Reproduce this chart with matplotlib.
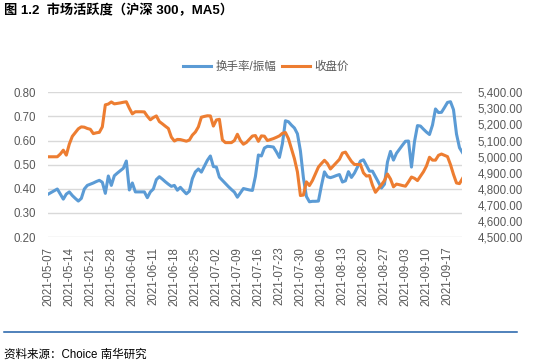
import matplotlib
matplotlib.use("Agg")
import matplotlib.pyplot as plt
import matplotlib.dates as mdates
from matplotlib.lines import Line2D
import pandas as pd

plt.rcParams['font.family'] = ['Liberation Sans', 'Noto Sans CJK SC', 'DejaVu Sans']

start_date = "2021-05-07"
end_date = "2021-09-22"

turnover = [0.378, 0.385, 0.392, 0.399, 0.378, 0.357, 0.378, 0.387, 0.372, 0.360,
            0.349, 0.360, 0.399, 0.414, 0.419, 0.424, 0.430, 0.435, 0.427, 0.381,
            0.453, 0.414, 0.454, 0.465, 0.475, 0.485, 0.515, 0.395, 0.424, 0.387,
            0.387, 0.387, 0.387, 0.363, 0.387, 0.399, 0.438, 0.450, 0.440, 0.429,
            0.419, 0.410, 0.414, 0.394, 0.406, 0.392, 0.379, 0.390, 0.442, 0.470,
            0.482, 0.469, 0.494, 0.518, 0.536, 0.492, 0.490, 0.448, 0.435, 0.422,
            0.409, 0.397, 0.386, 0.365, 0.383, 0.401, 0.398, 0.395, 0.393, 0.451,
            0.540, 0.536, 0.569, 0.576, 0.575, 0.573, 0.553, 0.530, 0.587, 0.682,
            0.678, 0.664, 0.652, 0.628, 0.557, 0.445, 0.368, 0.346, 0.348, 0.348,
            0.349, 0.413, 0.470, 0.450, 0.446, 0.450, 0.455, 0.459, 0.428, 0.433,
            0.471, 0.447, 0.465, 0.490, 0.515, 0.520, 0.496, 0.473, 0.473, 0.450,
            0.427, 0.403, 0.419, 0.511, 0.555, 0.519, 0.547, 0.564, 0.581, 0.597,
            0.598, 0.490, 0.595, 0.662, 0.660, 0.647, 0.635, 0.625, 0.664, 0.731,
            0.716, 0.717, 0.737, 0.758, 0.761, 0.728, 0.627, 0.570, 0.550]

close = [4999, 4999, 4999, 4999, 5016, 5040, 5009, 5078, 5126, 5149,
         5173, 5185, 5183, 5175, 5170, 5143, 5148, 5151, 5185, 5322,
         5327, 5340, 5328, 5331, 5334, 5338, 5341, 5301, 5266, 5279,
         5279, 5279, 5278, 5251, 5229, 5243, 5253, 5218, 5204, 5189,
         5175, 5121, 5097, 5107, 5106, 5101, 5096, 5103, 5134, 5153,
         5185, 5245, 5250, 5254, 5253, 5190, 5228, 5232, 5104, 5087,
         5087, 5087, 5100, 5139, 5100, 5077, 5088, 5108, 5128, 5131,
         5095, 5129, 5127, 5100, 5106, 5112, 5120, 5129, 5145, 5150,
         5112, 5049, 4987, 4905, 4758, 4761, 4843, 4820, 4851, 4893,
         4935, 4957, 4977, 4957, 4923, 4943, 4963, 4983, 5022, 5028,
         4998, 4970, 4951, 4951, 4951, 4899, 4879, 4882, 4822, 4778,
         4801, 4825, 4851, 4892, 4861, 4812, 4829, 4825, 4820, 4816,
         4843, 4873, 4865, 4851, 4878, 4906, 4942, 4996, 4978, 4978,
         5008, 5016, 5008, 5000, 4950, 4889, 4836, 4832, 4864]

left_ticks = [0.20, 0.30, 0.40, 0.50, 0.60, 0.70, 0.80]
right_ticks = [4500, 4600, 4700, 4800, 4900, 5000, 5100, 5200, 5300, 5400]
x_tick_labels = ["2021-05-07", "2021-05-14", "2021-05-21", "2021-05-28", "2021-06-04",
                 "2021-06-11", "2021-06-18", "2021-06-25", "2021-07-02", "2021-07-09",
                 "2021-07-16", "2021-07-23", "2021-07-30", "2021-08-06", "2021-08-13",
                 "2021-08-20", "2021-08-27", "2021-09-03", "2021-09-10", "2021-09-17"]

dates = pd.date_range(start_date, end_date, freq="D")

W, H = 539, 363
fig = plt.figure(figsize=(W / 100, H / 100), dpi=100)
fig.patch.set_facecolor("white")

L, R, T, B = 48.3, 462.5, 92.3, 237.0
ax = fig.add_axes([L / W, 1 - B / H, (R - L) / W, (B - T) / H])
ax2 = ax.twinx()

blue = "#5B9BD5"
orange = "#ED7D31"
grid_c = "#D9D9D9"
txt_c = "#595959"

ax.plot(dates, turnover, color=blue, lw=2.2, solid_joinstyle="round", label="换手率/振幅", zorder=3)
ax2.plot(dates, close, color=orange, lw=2.2, solid_joinstyle="round", label="收盘价", zorder=3)

ax.set_ylim(0.20, 0.80)
ax.set_yticks(left_ticks)
ax.set_yticklabels([f"{v:.2f}" for v in left_ticks])
ax2.set_ylim(4500, 5400)
ax2.set_yticks(right_ticks)
ax2.set_yticklabels([f"{v:,.2f}" for v in right_ticks])

ax.set_xlim(dates[0], dates[-1])
tick_dates = pd.to_datetime(x_tick_labels)
ax.set_xticks(tick_dates)
ax.set_xticklabels(x_tick_labels, rotation=90)

ax.grid(axis="y", color=grid_c, lw=1.0)
ax.set_axisbelow(True)
for a in (ax, ax2):
    for s in a.spines.values():
        s.set_visible(False)
    a.tick_params(length=0, colors=txt_c, labelsize=8.3)
ax.tick_params(axis="y", pad=9)
ax.tick_params(axis="x", pad=7)
ax2.tick_params(axis="y", pad=11)

handles = [Line2D([], [], color=blue, lw=2.2), Line2D([], [], color=orange, lw=2.2)]
fig.legend(handles, ["换手率/振幅", "收盘价"], loc="center",
           bbox_to_anchor=(265.9 / W, 1 - 67.3 / H), ncol=2, frameon=False,
           fontsize=8.3, handlelength=2.43, handletextpad=0.37, columnspacing=0.5,
           borderpad=0, borderaxespad=0, labelcolor=txt_c)

fig.text(4 / W, 1 - 11 / H, "图 1.2  市场活跃度（沪深 300，MA5）", fontsize=9.5,
         fontweight="bold", va="center", ha="left", color="black")

fig.add_artist(Line2D([4 / W, 517 / W], [1 - 331.7 / H, 1 - 331.7 / H],
                      color="#1F5FA8", lw=1.1, transform=fig.transFigure))
fig.text(4 / W, 1 - 355 / H, "资料来源：Choice 南华研究", fontsize=8.3,
         va="center", ha="left", color="black")

fig.savefig("out.png", dpi=100, facecolor="white")
